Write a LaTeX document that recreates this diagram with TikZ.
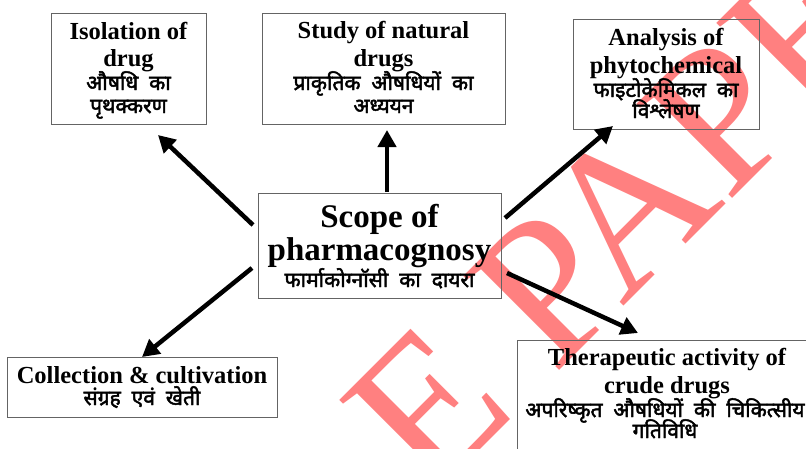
\documentclass[tikz,border=0pt]{standalone}
\usepackage{fontspec}
\setmainfont{Liberation Serif}
\newfontfamily\hindi[Script=Devanagari, FakeBold=2.2, WordSpace=2]{Noto Sans}
\usetikzlibrary{arrows.meta}
\definecolor{wmred}{RGB}{255,128,128}
\definecolor{boxgray}{RGB}{100,100,100}
\begin{document}
\begin{tikzpicture}[x=1pt,y=-1pt,
  box/.style={draw=boxgray, line width=0.9pt, inner sep=0pt, outer sep=0pt},
  en/.style={font=\fontsize{24.5}{27}\selectfont\bfseries, inner sep=0pt, anchor=base},
  big/.style={font=\fontsize{33}{36}\selectfont\bfseries, inner sep=0pt, anchor=base},
  hi/.style={font=\hindi\fontsize{21}{24}\selectfont, inner sep=0pt, anchor=base},
  arr/.style={line width=4.5pt, -{Triangle[length=17pt,width=18pt]}},
  wm/.style={font=\fontsize{205}{205}\selectfont, text=wmred, inner sep=0pt, anchor=base west, rotate=45}]
\clip (0,0) rectangle (806,448);
\fill[white] (0,0) rectangle (806,448);
% watermark
\node[wm] (wmark) at (430,500) {E PAPER};
% boxes
\node[box, minimum width=155pt, minimum height=111pt] (iso) at (128.5,68.5) {};
\node[box, minimum width=243pt, minimum height=111pt] (stu) at (383.5,68.5) {};
\node[box, minimum width=186pt, minimum height=110pt] (ana) at (666,74) {};
\node[box, minimum width=243pt, minimum height=105pt] (sco) at (379.5,245.5) {};
\node[box, minimum width=270pt, minimum height=60pt] (col) at (142,387) {};
\node[box, minimum width=303pt, minimum height=120pt] (the) at (668.5,400) {};
% texts
\node[en] (iso1) at (128.5,39) {Isolation of};
\node[en] (iso2) at (128.5,66) {drug};
\node[hi] (iso3) at (128.5,90) {औषधि का};
\node[hi] (iso4) at (128.5,113) {पृथक्करण};
\node[en] (stu1) at (383.5,38) {Study of natural};
\node[en] (stu2) at (383.5,66) {drugs};
\node[hi] (stu3) at (383.5,90) {प्राकृतिक औषधियों का};
\node[hi] (stu4) at (383.5,113) {अध्ययन};
\node[en] (ana1) at (666,45) {Analysis of};
\node[en] (ana2) at (666,73) {phytochemical};
\node[hi] (ana3) at (666,97) {फाइटोकेमिकल का};
\node[hi] (ana4) at (666,118) {विश्लेषण};
\node[big] (sco1) at (379.5,227) {Scope of};
\node[big] (sco2) at (379.5,260) {pharmacognosy};
\node[hi] (sco3) at (379.5,287) {फार्माकोग्नॉसी का दायरा};
\node[en] (col1) at (142,383) {Collection \& cultivation};
\node[hi] (col2) at (142,405) {संग्रह एवं खेती};
\node[en] (the1) at (667,365) {Therapeutic activity of};
\node[en] (the2) at (667,393) {crude drugs};
\node[hi] (the3) at (665,417) {अपरिष्कृत औषधियों की चिकित्सीय};
\node[hi] (the4) at (665,438) {गतिविधि};
% arrow ends
\coordinate (a1s) at (253,225); \coordinate (a1e) at (158,135);
\coordinate (a2s) at (387,192); \coordinate (a2e) at (387,130);
\coordinate (a3s) at (505,218); \coordinate (a3e) at (613,126);
\coordinate (a4s) at (252,268); \coordinate (a4e) at (142,357);
\coordinate (a5s) at (507,273); \coordinate (a5e) at (638,333);
\draw[arr] (a1s) -- (a1e);
\draw[arr] (a2s) -- (a2e);
\draw[arr] (a3s) -- (a3e);
\draw[arr] (a4s) -- (a4e);
\draw[arr] (a5s) -- (a5e);
\end{tikzpicture}
\end{document}
